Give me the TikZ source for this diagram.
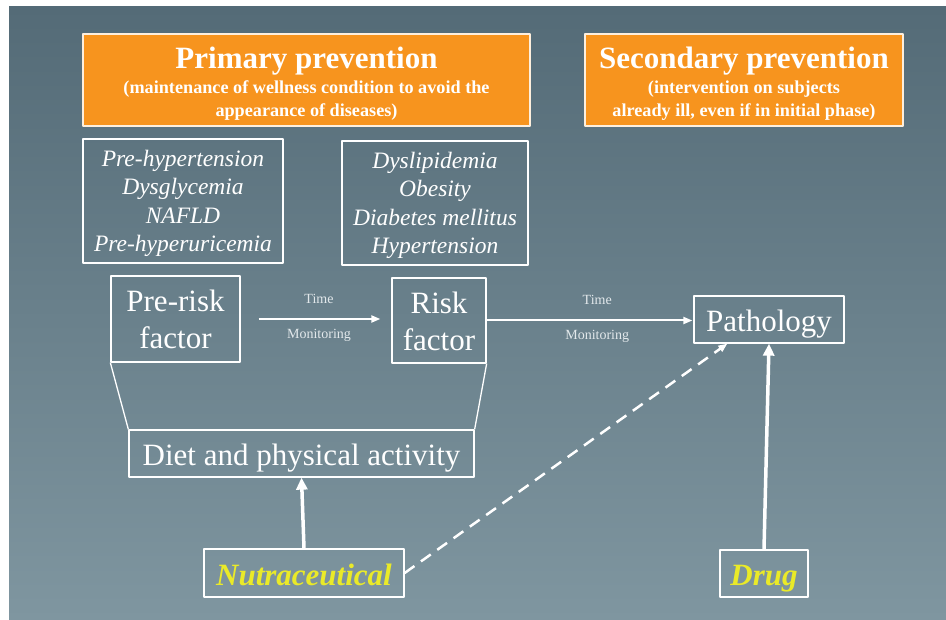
\documentclass[tikz,border=0pt]{standalone}
\usepackage{fontspec}
\setmainfont{Liberation Serif}
\usetikzlibrary{arrows.meta}
\definecolor{bgtop}{RGB}{84,107,119}
\definecolor{bgbot}{RGB}{127,150,160}
\definecolor{boxorange}{RGB}{247,148,30}
\definecolor{nutrayellow}{RGB}{234,234,40}
\definecolor{labelgray}{RGB}{226,232,235}
\begin{document}
\begin{tikzpicture}[x=1pt,y=-1pt,line join=round,
	box/.style={draw=white,line width=1.3pt,inner sep=0pt,align=center,text=white,font=\fontsize{31}{37}\selectfont},
	onebox/.style={box,text height=24pt,text depth=0pt},
	headbox/.style={box,fill=boxorange,draw=white!85!boxorange,font=\fontsize{18.2}{23}\selectfont\bfseries},
	listbox/.style={box,font=\fontsize{23.5}{28.5}\selectfont\itshape},
	flow/.style={draw=white,line width=2pt,-{Triangle[length=9pt,width=7pt]}},
	push/.style={draw=white,line width=3.5pt,-{Triangle[length=12pt,width=11pt]}},
	lbl/.style={text=labelgray,font=\fontsize{14}{14}\selectfont,inner sep=0pt}]
	\useasboundingbox (0,0) rectangle (946,620);
	\fill[white] (0,0) rectangle (946,620);
	\shade[top color=bgtop,bottom color=bgbot] (9,7) rectangle (946,620);
	% prevention headers
	\node[headbox,minimum width=447pt,minimum height=92pt] (primary) at (306.5,80)
	{{\fontsize{31}{31}\selectfont\rule{0pt}{28pt}Primary prevention}\\[2pt]
		(maintenance of wellness condition to avoid the\\appearance of diseases)};
	\node[headbox,minimum width=318pt,minimum height=92pt] (secondary) at (744,80)
	{{\fontsize{31}{31}\selectfont\rule{0pt}{28pt}Secondary prevention}\\[2pt]
		(intervention on subjects\\already ill, even if in initial phase)};
	% conditions
	\node[listbox,minimum width=200pt,minimum height=124pt] (prelist) at (183,201)
	{\rule{0pt}{21pt}Pre-hypertension\\Dysglycemia\\NAFLD\\Pre-hyperuricemia};
	\node[listbox,minimum width=186pt,minimum height=124pt] (risklist) at (435,203)
	{\rule{0pt}{21pt}Dyslipidemia\\Obesity\\Diabetes mellitus\\Hypertension};
	% stages
	\node[box,minimum width=129pt,minimum height=86pt] (prerisk) at (175.5,319) {Pre-risk\\factor};
	\node[box,minimum width=94pt,minimum height=85pt] (risk) at (439,320.5) {\rule{0pt}{23pt}Risk\\factor};
	\node[onebox,minimum width=150pt,minimum height=47pt] (patho) at (769,319.5) {Pathology};
	\node[onebox,minimum width=345pt,minimum height=47pt] (diet) at (301.5,453.5) {Diet and physical activity};
	\node[onebox,minimum width=200pt,minimum height=48pt,text=nutrayellow] (nutra) at (304,573) {\bfseries\itshape Nutraceutical};
	\node[onebox,minimum width=88pt,minimum height=47pt,text=nutrayellow] (drug) at (764,573.5) {\bfseries\itshape Drug};
	\coordinate (pathoin) at ([xshift=34pt]patho.south west);
	% time arrows
	\foreach \a/\b/\s/\t/\p in {prerisk/risk/18/11/0.52,risk/patho/0/1/0.535}
	\draw[flow,shorten <=\s pt,shorten >=\t pt] (\a.east) -- (\a.east -| \b.west)
	node[lbl,pos=\p,above=14.5pt]{Time} node[lbl,pos=\p,below=9pt]{Monitoring};
	\draw[white,line width=1.3pt] (prerisk.south west)--(diet.north west) (risk.south east)--(diet.north east);
	\draw[push] (nutra.north)--(diet.south);
	\draw[push] (drug.north)--(patho.south);
	\draw[flow,line width=2.5pt,dash pattern=on 12pt off 8pt] (nutra.east)--(pathoin);
\end{tikzpicture}
\end{document}
